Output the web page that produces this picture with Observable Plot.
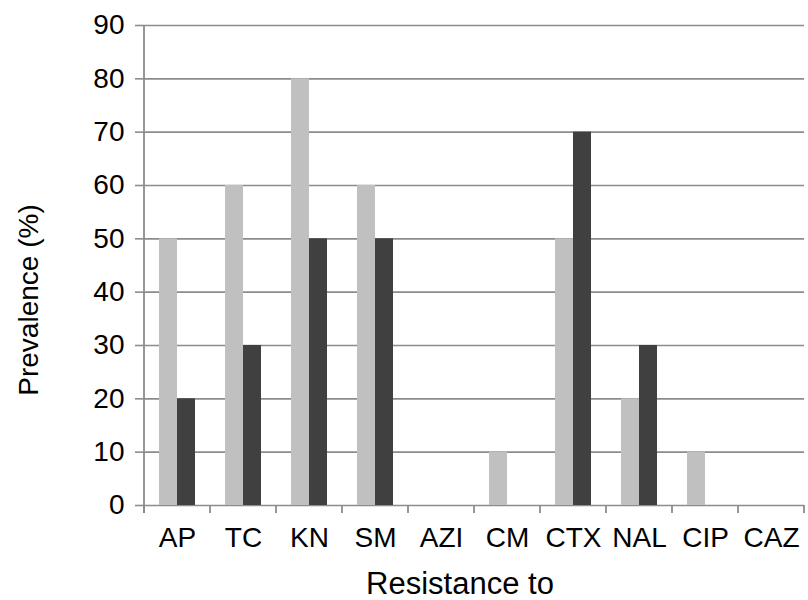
<!DOCTYPE html>
<html>
<head>
<meta charset="utf-8">
<script src="https://cdn.jsdelivr.net/npm/d3@7"></script>
<script src="https://cdn.jsdelivr.net/npm/@observablehq/plot@0.6"></script>
<style>
  html, body { margin: 0; padding: 0; background: #fff; }
  #chart svg { display: block; font-family: "Liberation Sans", Arial, sans-serif; }
</style>
</head>
<body>
<div id="chart"></div>
<script>
const categories = ["AP", "TC", "KN", "SM", "AZI", "CM", "CTX", "NAL", "CIP", "CAZ"];
const seriesNames = ["Series 1", "Series 2"];
const series1 = [50, 60, 80, 60, 0, 10, 50, 20, 10, 0];
const series2 = [20, 30, 50, 50, 0, 0, 70, 30, 0, 0];
const yTicks = [0, 10, 20, 30, 40, 50, 60, 70, 80, 90];
const xTitle = "Resistance to";
const yTitle = "Prevalence (%)";

const data = [];
categories.forEach((c, i) => {
  data.push({cat: c, series: seriesNames[0], value: series1[i]});
  data.push({cat: c, series: seriesNames[1], value: series2[i]});
});

const gridColor = "#8c8c8c";

const chart = Plot.plot({
  width: 808,
  height: 600,
  marginLeft: 142,
  marginRight: 2,
  marginTop: 25,
  marginBottom: 95,
  style: {fontFamily: "Liberation Sans, Arial, sans-serif", fontSize: "28px", background: "#fff", color: "#000"},
  fx: {domain: categories, padding: 0, label: null},
  x: {domain: seriesNames, paddingInner: 0, paddingOuter: 0.8, axis: null},
  y: {domain: [0, 90], label: null},
  color: {domain: seriesNames, range: ["#c0c0c0", "#404040"]},
  marks: [
    Plot.gridY(yTicks, {stroke: gridColor, strokeOpacity: 1, strokeWidth: 1.6}),
    Plot.barY(data, {fx: "cat", x: "series", y: "value", fill: "series"}),
    Plot.axisY(yTicks, {tickSize: 9, tickPadding: 11, stroke: gridColor, strokeWidth: 1.6, fill: "#000", fontSize: 28, label: null}),
    Plot.axisFx({anchor: "bottom", tickSize: 0, tickPadding: 22, fontSize: 28, fill: "#000", label: null})
  ]
});

document.getElementById("chart").appendChild(chart);

// axis line and category boundary ticks drawn from the plot's own scales
const svg = d3.select(chart);
const fx = chart.scale("fx");
const y = chart.scale("y");
const y0 = y.apply(0), yTop = y.apply(90);
const edges = categories.map(c => fx.apply(c));
edges.push(fx.apply(categories[categories.length - 1]) + fx.bandwidth);
const g = svg.append("g").attr("stroke", gridColor).attr("stroke-width", 1.8);
g.append("line").attr("x1", edges[0]).attr("x2", edges[0]).attr("y1", yTop).attr("y2", y0 + 8);
edges.forEach(x => {
  g.append("line").attr("x1", x).attr("x2", x).attr("y1", y0).attr("y2", y0 + 8);
});

// axis titles
svg.append("text")
  .attr("x", 460).attr("y", 594)
  .attr("text-anchor", "middle")
  .attr("font-size", 31)
  .attr("fill", "#000")
  .text(xTitle);
svg.append("text")
  .attr("transform", "translate(38,300) rotate(-90)")
  .attr("text-anchor", "middle")
  .attr("font-size", 28)
  .attr("fill", "#000")
  .text(yTitle);
</script>
</body>
</html>
